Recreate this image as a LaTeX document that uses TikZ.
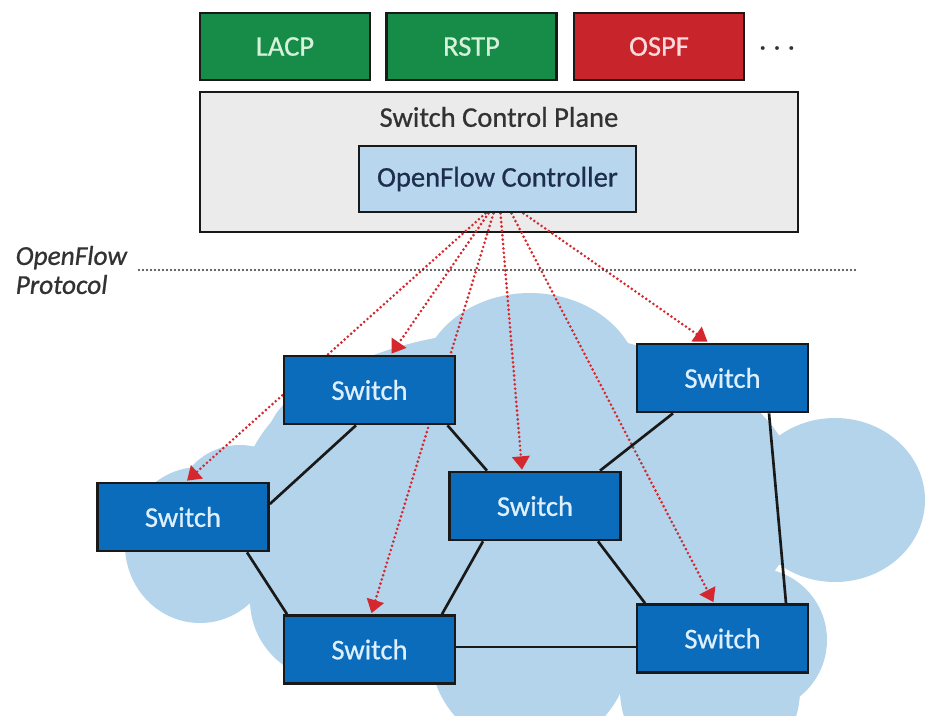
\documentclass[tikz,border=0pt]{standalone}
\usepackage{fontspec}
\setmainfont{Carlito}[FakeBold=0.7]
\usetikzlibrary{arrows.meta,calc}
\pgfdeclarelayer{back}
\pgfdeclarelayer{mid}
\pgfsetlayers{back,mid,main}

\definecolor{protogreen}{RGB}{22,140,72}
\definecolor{protored}{RGB}{200,36,44}
\definecolor{greentext}{RGB}{215,242,218}
\definecolor{redtext}{RGB}{250,218,218}
\definecolor{planegray}{RGB}{235,235,235}
\definecolor{ctrlblue}{RGB}{184,215,238}
\definecolor{ctrltext}{RGB}{30,45,75}
\definecolor{switchblue}{RGB}{10,108,186}
\definecolor{switchtext}{RGB}{222,240,255}
\definecolor{cloudblue}{RGB}{180,212,235}
\definecolor{flowred}{RGB}{212,40,46}
\definecolor{edgeblack}{RGB}{25,25,25}
\definecolor{labelgray}{RGB}{50,50,50}

\begin{document}
\begin{tikzpicture}[x=0.75pt,y=-0.75pt,
  every node/.style={font=\fontsize{21.4pt}{24pt}\selectfont},
  box/.style={draw=edgeblack,line width=2pt,inner sep=0pt},
  proto/.style={box,minimum width=127.5pt,minimum height=50.25pt},
  switchbox/.style={box,fill=switchblue,text=switchtext,
    minimum width=128.25pt,minimum height=51pt},
  flow/.style={draw=flowred,line width=2.2pt,line cap=round,
    dash pattern=on 0pt off 3.3pt,
    -{Triangle[length=10pt,width=13pt,fill=flowred,line cap=butt]}},
  link/.style={draw=edgeblack,line width=2pt},
  boundary/.style={draw=labelgray,line width=1.8pt,line cap=round,
    dash pattern=on 0pt off 3pt}]

\useasboundingbox (0,0) rectangle (925,715);

% protocol modules
\node[proto,fill=protogreen,text=greentext] (lacp) at (285,46.5) {LACP};
\node[proto,fill=protogreen,text=greentext] (rstp) at (471.5,46.5) {RSTP};
\node[proto,fill=protored,text=redtext] (ospf) at (659,46.5) {OSPF};
\node[text=labelgray] (more) at (777,48) {.\hspace{0.25em}.\hspace{0.25em}.};

% control plane and controller
\begin{pgfonlayer}{back}
  \fill[white] (0,0) rectangle (925,715);
  \node[box,fill=planegray,minimum width=448.5pt,minimum height=105pt]
    (plane) at (499,162) {};
  % cloud of the switched network
  \begin{scope}[cloudblue]
    \fill (520,500) ellipse [x radius=280, y radius=170];
    \fill (530,385) ellipse [x radius=110, y radius=92];
    \fill (835,500) ellipse [x radius=90, y radius=82];
    \fill (755,640) circle [radius=72];
    \fill (530,650) circle [radius=100];
    \fill (710,690) circle [radius=90];
    \fill (200,545) ellipse [x radius=75, y radius=78];
    \fill (240,510) circle [radius=65];
    \fill (330,450) circle [radius=65];
    \fill (330,600) circle [radius=80];
  \end{scope}
\end{pgfonlayer}
\node[text=labelgray] (planelabel) at (499,117) {Switch Control Plane};
\node[box,fill=ctrlblue,text=ctrltext,minimum width=207.75pt,minimum height=49.5pt]
  (ctrl) at (497.5,179) {OpenFlow Controller};

% protocol boundary
\node[text=labelgray,align=left,anchor=west,font=\fontsize{20.5pt}{21.75pt}\selectfont\itshape]
  (proto) at (11,270) {OpenFlow\\Protocol};
\coordinate (bleft) at (139,270);
\coordinate (bright) at (857,270);
\draw[boundary] (bleft) -- (bright);

% switches
\node[switchbox] (s1) at (369.5,390) {Switch};
\node[switchbox] (s2) at (183,517) {Switch};
\node[switchbox] (s3) at (535,506) {Switch};
\node[switchbox] (s4) at (722.5,378) {Switch};
\node[switchbox] (s5) at (369.5,649.5) {Switch};
\node[switchbox] (s6) at (722.5,638.5) {Switch};

\begin{pgfonlayer}{mid}
  % OpenFlow sessions
  \draw[flow] ($(ctrl.south)+(-12,0)$) -- ($(s2.north)+(4,-1)$);
  \draw[flow] ($(ctrl.south)+(-9,0)$) -- ($(s1.north)+(22,-1)$);
  \draw[flow] ($(ctrl.south)+(-4,0)$) -- ($(s5.north)+(2,-1)$);
  \draw[flow] ($(ctrl.south)+(3,0)$) -- ($(s3.north)+(-13,-1)$);
  \draw[flow] ($(ctrl.south)+(14,0)$) -- ($(s6.north)+(-9,-1)$);
  \draw[flow] ($(ctrl.south)+(26,0)$) -- ($(s4.north)+(-15,-1)$);
  % physical links
  \draw[link] ($(s1.south)+(-13.5,0)$) -- ($(s2.east)+(0,-13)$);
  \draw[link] ($(s1.south)+(78,0)$) -- ($(s3.north)+(-48,0)$);
  \draw[link] ($(s2.south)+(64,0)$) -- ($(s5.north)+(-82.5,0)$);
  \draw[link] ($(s3.south)+(-52,0)$) -- ($(s5.north)+(72.5,0)$);
  \draw[link] ($(s3.north)+(65,0)$) -- ($(s4.south)+(-49.5,0)$);
  \draw[link] ($(s3.south)+(63,0)$) -- ($(s6.north)+(-77.5,0)$);
  \draw[link] ($(s4.south)+(46.5,0)$) -- ($(s6.north)+(63.5,0)$);
  \draw[link] ($(s5.east)+(0,-2.5)$) -- ($(s6.west)+(0,8.5)$);
\end{pgfonlayer}
\end{tikzpicture}
\end{document}
